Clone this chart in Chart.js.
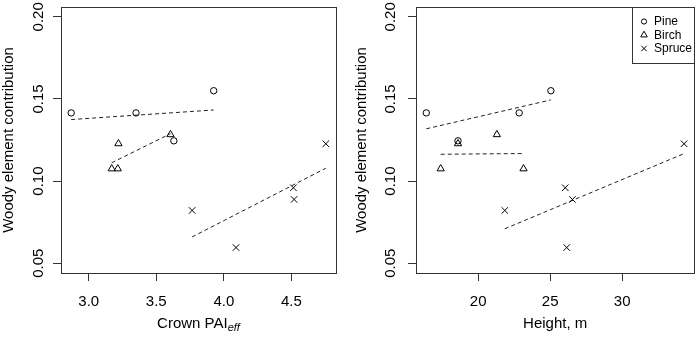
<!DOCTYPE html>
<html>
<head>
<meta charset="utf-8">
<script src="https://cdn.jsdelivr.net/npm/chart.js@4.4.1/dist/chart.umd.min.js"></script>
<style>
	body { margin: 0; background: #fff; width: 700px; height: 338px; overflow: hidden; }
	.panel { position: absolute; top: 0; width: 350px; height: 338px; }
</style>
</head>
<body>
<div class="panel" style="left:0"><canvas id="paiChart" width="350" height="338"></canvas></div>
<div class="panel" style="left:350px"><canvas id="heightChart" width="350" height="338"></canvas></div>
<script>
// woody element contribution per tree, by species
const species = ['Pine', 'Birch', 'Spruce']
const woodyPine = [0.1415, 0.1415, 0.1245, 0.155]
const woodyBirch = [0.1075, 0.1075, 0.1228, 0.1283]
const woodySpruce = [0.0821, 0.0595, 0.0959, 0.0888, 0.1227]

// crown PAI_eff (left panel)
const paiPine = [2.87, 3.35, 3.63, 3.925]
const paiBirch = [3.17, 3.215, 3.22, 3.605]
const paiSpruce = [3.765, 4.09, 4.515, 4.52, 4.755]

// tree height, m (right panel)
const heightPine = [16.4, 22.85, 18.6, 25.05]
const heightBirch = [17.4, 23.15, 18.6, 21.3]
const heightSpruce = [21.85, 26.15, 26.05, 26.55, 34.3]

const paiTicks = [3.0, 3.5, 4.0, 4.5]
const heightTicks = [20, 25, 30]
const woodyTicks = [0.05, 0.10, 0.15, 0.20]
const woodyLimits = [0.05, 0.20]

const FONT = "'Liberation Sans', Arial, sans-serif"
const INK = '#333'

function pairs(xs, ys) {
	return xs.map((x, i) => ({ x: x, y: ys[i] }))
}

// least squares line across the range of the group
function fitLine(xs, ys) {
	const n = xs.length
	const mx = xs.reduce((a, b) => a + b, 0) / n
	const my = ys.reduce((a, b) => a + b, 0) / n
	let sxy = 0, sxx = 0
	xs.forEach((x, i) => {
		sxy += (x - mx) * (ys[i] - my)
		sxx += (x - mx) * (x - mx)
	})
	const b = sxy / sxx
	const lo = Math.min(...xs), hi = Math.max(...xs)
	return [{ x: lo, y: my + b * (lo - mx) }, { x: hi, y: my + b * (hi - mx) }]
}

// R style 4% extension of a range
function extend(lo, hi) {
	const d = (hi - lo) * 0.04
	return [lo - d, hi + d]
}

function drawSymbol(ctx, style, x, y, r) {
	ctx.beginPath()
	if (style === 'circle') {
		ctx.arc(x, y, r, 0, Math.PI * 2)
	} else if (style === 'triangle') {
		ctx.moveTo(x, y - r)
		ctx.lineTo(x + r * 0.866, y + r * 0.5)
		ctx.lineTo(x - r * 0.866, y + r * 0.5)
		ctx.closePath()
	} else {
		const d = r * 0.7071
		ctx.moveTo(x - d, y - d); ctx.lineTo(x + d, y + d)
		ctx.moveTo(x + d, y - d); ctx.lineTo(x - d, y + d)
	}
	ctx.stroke()
}

function makePanel(canvasId, cfg) {
	const xs = [cfg.pine, cfg.birch, cfg.spruce]
	const ys = [woodyPine, woodyBirch, woodySpruce]
	const styles = ['circle', 'triangle', 'crossRot']
	const radii = [3.2, 4.2, 4.6]
	const allX = [].concat(...xs)
	const xLim = extend(Math.min(...allX), Math.max(...allX))
	const yLim = extend(woodyLimits[0], woodyLimits[1])

	const datasets = []
	xs.forEach((x, i) => {
		datasets.push({
			label: species[i],
			data: pairs(x, ys[i]),
			pointStyle: styles[i],
			pointRadius: radii[i],
			pointBorderColor: '#000',
			pointBackgroundColor: 'rgba(0,0,0,0)',
			pointBorderWidth: 1,
			showLine: false,
		})
	})
	xs.forEach((x, i) => {
		datasets.push({
			type: 'line',
			label: species[i] + ' fit',
			data: fitLine(x, ys[i]),
			borderColor: '#222',
			borderWidth: 1,
			borderDash: [4, 3],
			pointRadius: 0,
			fill: false,
		})
	})

	const basePlot = {
		id: 'basePlot',
		afterDraw(chart) {
			const ctx = chart.ctx
			const a = chart.chartArea
			const sx = chart.scales.x, sy = chart.scales.y
			ctx.save()
			ctx.strokeStyle = INK
			ctx.lineWidth = 1
			ctx.strokeRect(Math.round(a.left) + 0.5, Math.round(a.top) + 0.5,
				Math.round(a.right - a.left), Math.round(a.bottom - a.top))
			ctx.fillStyle = '#000'

			// x tick labels
			ctx.font = '15px ' + FONT
			ctx.textAlign = 'center'
			ctx.textBaseline = 'alphabetic'
			cfg.ticks.forEach(v => {
				ctx.fillText(cfg.fmt(v), sx.getPixelForValue(v), 306)
			})

			// y tick labels, rotated like R
			woodyTicks.forEach(v => {
				ctx.save()
				ctx.translate(cfg.yLabelX, sy.getPixelForValue(v))
				ctx.rotate(-Math.PI / 2)
				ctx.fillText(v.toFixed(2), 0, 0)
				ctx.restore()
			})

			// y title
			ctx.font = '15px ' + FONT
			ctx.save()
			ctx.translate(cfg.yTitleX, (a.top + a.bottom) / 2)
			ctx.rotate(-Math.PI / 2)
			ctx.fillText('Woody element contribution', 0, 0)
			ctx.restore()

			// x title, with optional italic subscript
			const cx = (a.left + a.right) / 2
			ctx.textAlign = 'left'
			const w1 = ctx.measureText(cfg.xTitle).width
			let w2 = 0
			if (cfg.xSub) {
				ctx.font = 'italic 11px ' + FONT
				w2 = ctx.measureText(cfg.xSub).width
			}
			const x0 = cx - (w1 + w2) / 2
			ctx.font = '15px ' + FONT
			ctx.fillText(cfg.xTitle, x0, 328)
			if (cfg.xSub) {
				ctx.font = 'italic 11px ' + FONT
				ctx.fillText(cfg.xSub, x0 + w1, 331)
			}

			// legend box in the top right corner
			if (cfg.legend) {
				const lx = 282.5, rx = Math.round(a.right) + 0.5
				const ty = Math.round(a.top) + 0.5
				ctx.strokeRect(lx, ty, rx - lx, 56)
				ctx.font = '12px ' + FONT
				ctx.textBaseline = 'middle'
				ctx.strokeStyle = '#000'
				const legStyles = ['circle', 'triangle', 'cross']
				const legR = [2.6, 3.8, 3.8]
				species.forEach((s, i) => {
					const yy = 21.5 + i * 13.5
					drawSymbol(ctx, legStyles[i], 294, yy, legR[i])
					ctx.fillText(s, 304, yy + 0.5)
				})
			}
			ctx.restore()
		},
	}

	return new Chart(document.getElementById(canvasId), {
		type: 'scatter',
		data: { datasets: datasets },
		options: {
			responsive: false,
			animation: false,
			devicePixelRatio: 1,
			layout: { padding: { top: 7, right: cfg.rightPad, left: 0, bottom: 0 } },
			plugins: {
				legend: { display: false },
				tooltip: { enabled: false },
			},
			scales: {
				x: {
					type: 'linear',
					min: xLim[0],
					max: xLim[1],
					border: { display: false },
					grid: { drawOnChartArea: false, drawTicks: true, tickLength: 8, tickColor: INK, lineWidth: 1 },
					ticks: { display: false },
					afterBuildTicks: s => { s.ticks = cfg.ticks.map(v => ({ value: v })) },
					afterFit: s => { s.height = 65 },
				},
				y: {
					type: 'linear',
					min: yLim[0],
					max: yLim[1],
					border: { display: false },
					grid: { drawOnChartArea: false, drawTicks: true, tickLength: 8, tickColor: INK, lineWidth: 1 },
					ticks: { display: false },
					afterBuildTicks: s => { s.ticks = woodyTicks.map(v => ({ value: v })) },
					afterFit: s => { s.width = cfg.leftPad },
				},
			},
		},
		plugins: [basePlot],
	})
}

makePanel('paiChart', {
	pine: paiPine, birch: paiBirch, spruce: paiSpruce,
	ticks: paiTicks, fmt: v => v.toFixed(1),
	xTitle: 'Crown PAI', xSub: 'eff',
	leftPad: 61, rightPad: 14, yLabelX: 43, yTitleX: 13, legend: false,
})

makePanel('heightChart', {
	pine: heightPine, birch: heightBirch, spruce: heightSpruce,
	ticks: heightTicks, fmt: v => String(v),
	xTitle: 'Height, m', xSub: '',
	leftPad: 66, rightPad: 3, yLabelX: 45, yTitleX: 16, legend: true,
})
</script>
</body>
</html>
